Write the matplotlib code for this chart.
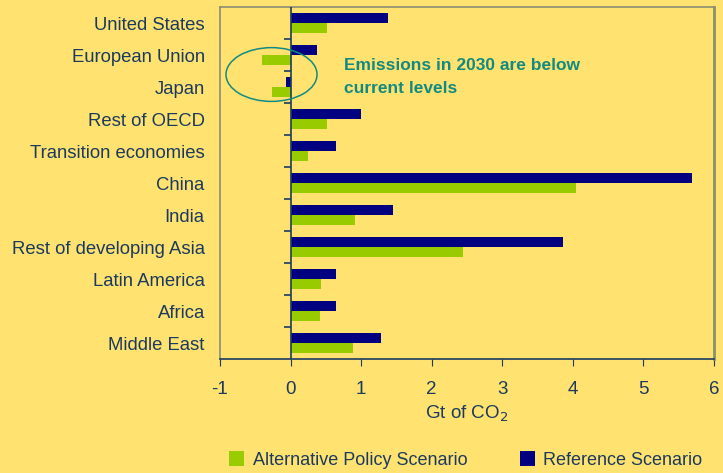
import matplotlib
matplotlib.use("Agg")
import matplotlib.pyplot as plt
from matplotlib.patches import Ellipse
import numpy as np

regions = ["United States", "European Union", "Japan", "Rest of OECD",
           "Transition economies", "China", "India", "Rest of developing Asia",
           "Latin America", "Africa", "Middle East"]
reference = [1.38, 0.37, -0.07, 1.00, 0.64, 5.69, 1.45, 3.86, 0.64, 0.64, 1.28]
alternative = [0.51, -0.40, -0.27, 0.51, 0.24, 4.04, 0.91, 2.45, 0.43, 0.41, 0.88]
xticks = [-1, 0, 1, 2, 3, 4, 5, 6]

BG = "#FFE270"
TXT = "#1B3A5E"
NAVY = "#000080"
GREEN = "#99CC00"
TEAL = "#138A80"

plt.rcParams['font.family'] = ['Liberation Sans', 'DejaVu Sans']

fig = plt.figure(figsize=(7.23, 4.73), dpi=100, facecolor=BG)
ax = fig.add_axes([220/723, 1-359/473, (714-220)/723, (359-7)/473])
ax.set_facecolor(BG)

y = np.arange(len(regions))
h = 0.31
ax.barh(y - h/2, reference, height=h, color=NAVY, label="Reference Scenario", zorder=3)
ax.barh(y + h/2, alternative, height=h, color=GREEN, label="Alternative Policy Scenario", zorder=3)

ax.set_ylim(len(regions) - 0.5, -0.5)
ax.set_xlim(-1, 6)
ax.set_yticks(y)
ax.set_yticklabels(regions, fontsize=13.3, color=TXT)
ax.tick_params(axis='y', length=0, pad=11)
ax.set_xticks(xticks)
ax.set_xticklabels([str(v) for v in xticks], fontsize=13.5, color=TXT)
ax.tick_params(axis='x', direction='out', length=5, color=TXT, pad=11)

# zero line with category boundary ticks
ax.axvline(0, color=TXT, lw=1.2, zorder=4)
for b in np.arange(len(regions) - 1) + 0.5:
    ax.plot([-0.1, 0], [b, b], color=TXT, lw=1.2, zorder=4, solid_capstyle='butt')

for s in ['left', 'right', 'top']:
    ax.spines[s].set_color("#8A8F70")
    ax.spines[s].set_linewidth(1.2)
ax.spines['right'].set_linewidth(2)
ax.spines['bottom'].set_color(TXT)
ax.spines['bottom'].set_linewidth(1.2)

ax.set_xlabel("Gt of CO$_2$", fontsize=13.5, color=TXT, labelpad=4)

ell = Ellipse((-0.27, 1.61), width=1.29, height=1.68, fill=False,
              edgecolor=TEAL, lw=1.1, zorder=5)
ax.add_patch(ell)
ax.text(0.75, 1.68, "Emissions in 2030 are below\ncurrent levels", fontsize=12.5,
        fontweight='bold', color=TEAL, va='center', ha='left', linespacing=1.65, zorder=6)

handles, labels = ax.get_legend_handles_labels()
leg = fig.legend(handles[::-1], labels[::-1], loc='lower center', ncol=2,
                 bbox_to_anchor=(0.644, -0.025), frameon=False, fontsize=13,
                 handlelength=0.85, handleheight=0.85, handletextpad=0.45,
                 columnspacing=2.9)
for t in leg.get_texts():
    t.set_color(TXT)

fig.savefig("out.png", dpi=100, facecolor=BG)
